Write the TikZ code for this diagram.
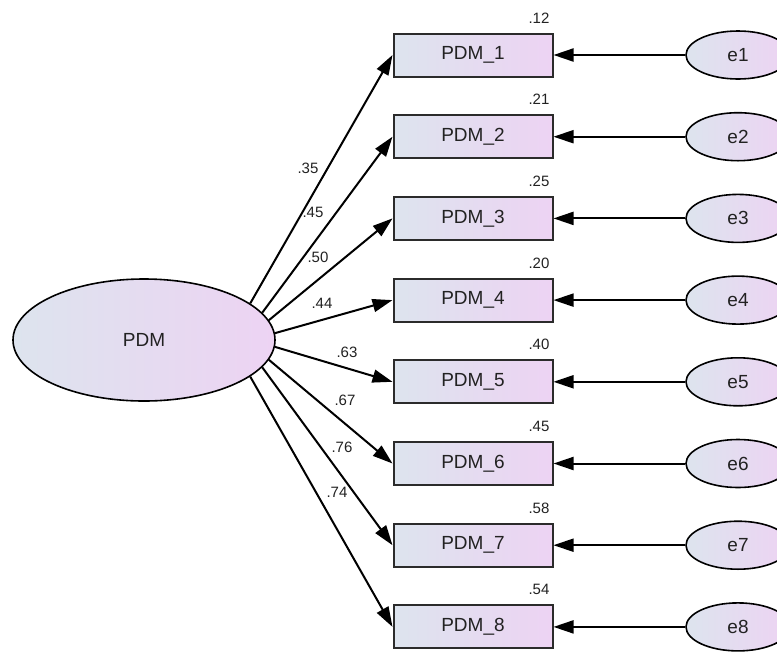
\documentclass[tikz,border=0pt]{standalone}
\usepackage{fontspec}
\setmainfont{Liberation Sans}
\usetikzlibrary{arrows.meta,shapes.geometric}
\definecolor{shadeL}{HTML}{DDE4EE}
\definecolor{shadeR}{HTML}{EDD3F3}
\definecolor{edgegray}{HTML}{2B2B2B}
\definecolor{inkgray}{HTML}{222222}
\begin{document}
\begin{tikzpicture}[x=1pt,y=-1pt,
  obsbox/.style={rectangle, draw=edgegray, line width=2pt, left color=shadeL, right color=shadeR,
    minimum width=159pt, minimum height=43pt, inner sep=0pt, text=inkgray,
    font=\fontsize{19}{22}\selectfont},
  latent/.style={ellipse, draw=black, line width=1.6pt, left color=shadeL, right color=shadeR,
    inner sep=0pt, text=inkgray, font=\fontsize{19}{22}\selectfont},
  errnode/.style={latent, minimum width=104pt, minimum height=48pt},
  loadarrow/.style={draw=black, line width=2pt, -{Triangle[length=20pt,width=13pt]}},
  coef/.style={inner sep=0pt, text=inkgray, font=\fontsize{15}{17}\selectfont}]
\useasboundingbox (0,0) rectangle (777,657);
\fill[white] (0,0) rectangle (777,657);

% factor
\node[latent, minimum width=262pt, minimum height=122pt] (PDM) at (144,340) {PDM};

% indicators, error terms, squared multiple correlations
\foreach \i/\r in {1/.12,2/.21,3/.25,4/.20,5/.40,6/.45,7/.58,8/.54} {
  \pgfmathsetmacro{\yy}{55+81.7*(\i-1)}
  \node[obsbox] (b\i) at (473,\yy) {PDM\_\i};
  \node[errnode] (e\i) at (738,\yy) {e\i};
  \node[coef] (r\i) at (539,\yy-37) {\r};
  \draw[loadarrow] (e\i.west) -- (b\i.east);
}

% loadings
\foreach \i/\a in {1/19,2/13.5,3/9,4/3.5,5/-3.5,6/-9,7/-13.5,8/-19} {
  \draw[loadarrow] (PDM.\a) -- (b\i.west);
}

% loading estimates
\node[coef] (l1) at (308,168) {.35};
\node[coef] (l2) at (313,212) {.45};
\node[coef] (l3) at (318,257) {.50};
\node[coef] (l4) at (322,303) {.44};
\node[coef] (l5) at (347,352) {.63};
\node[coef] (l6) at (345,400) {.67};
\node[coef] (l7) at (342,447) {.76};
\node[coef] (l8) at (337,492) {.74};
\end{tikzpicture}
\end{document}
